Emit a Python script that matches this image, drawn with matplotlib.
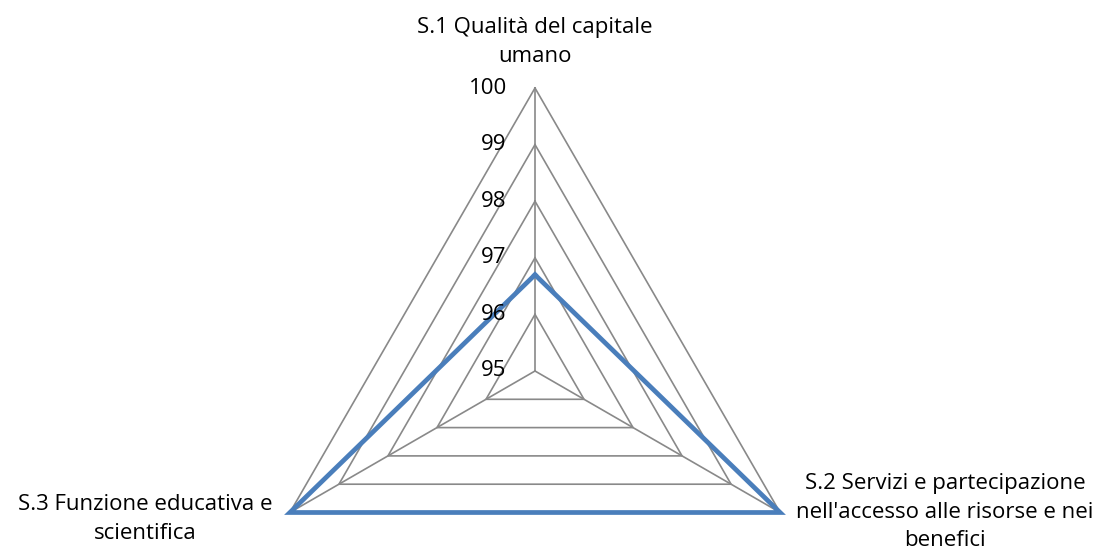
import matplotlib.pyplot as plt
import numpy as np

# data
categories = ["S.1 Qualità del capitale\numano",
              "S.2 Servizi e partecipazione\nnell'accesso alle risorse e nei\nbenefici",
              "S.3 Funzione educativa e\nscientifica"]
values = [96.7, 100.0, 100.0]
ticks = [95, 96, 97, 98, 99, 100]
rmin = 95

W, H = 1105, 556
cx, cy = 535, 371          # centre of the radar in pixels
scale = 56.6               # pixels per unit

plt.rcParams['font.family'] = ['Open Sans', 'DejaVu Sans']

fig = plt.figure(figsize=(W / 100, H / 100), dpi=100)
ax = fig.add_axes([0, 0, 1, 1])
ax.set_xlim(-cx / scale, (W - cx) / scale)
ax.set_ylim(-(H - cy) / scale, cy / scale)
ax.set_aspect('equal')
ax.axis('off')

# axes start at the top and go clockwise
angles = np.pi / 2 - np.arange(len(categories)) * 2 * np.pi / len(categories)


def to_xy(vals):
    r = np.asarray(vals, dtype=float) - rmin
    return r * np.cos(angles), r * np.sin(angles)


grey = '#898989'
# polygon grid
for t in ticks[1:]:
    x, y = to_xy([t] * len(categories))
    ax.plot(np.append(x, x[0]), np.append(y, y[0]), color=grey, lw=1.2, zorder=1)
# spokes
for a in angles:
    r = ticks[-1] - rmin
    ax.plot([0, r * np.cos(a)], [0, r * np.sin(a)], color=grey, lw=1.2, zorder=1)

# tick labels
for t in ticks:
    ax.text(-0.5, t - rmin, str(t), ha='right', va='center', fontsize=16,
            color='black', zorder=4)

# data series
x, y = to_xy(values)
ax.plot(np.append(x, x[0]), np.append(y, y[0]), color='#4a7ebb', lw=3.4,
        solid_joinstyle='miter', zorder=3)

# category labels
lab_pos = [((535 - cx) / scale, (cy - 42) / scale),
           ((945 - cx) / scale, (cy - 512) / scale),
           ((145 - cx) / scale, (cy - 519) / scale)]
line_sp = [1.55, 1.45, 1.55]
for (lx, ly), lab, ls in zip(lab_pos, categories, line_sp):
    ax.text(lx, ly, lab, ha='center', va='center', fontsize=16,
            linespacing=ls, color='black')

fig.savefig('out.png', dpi=100)
